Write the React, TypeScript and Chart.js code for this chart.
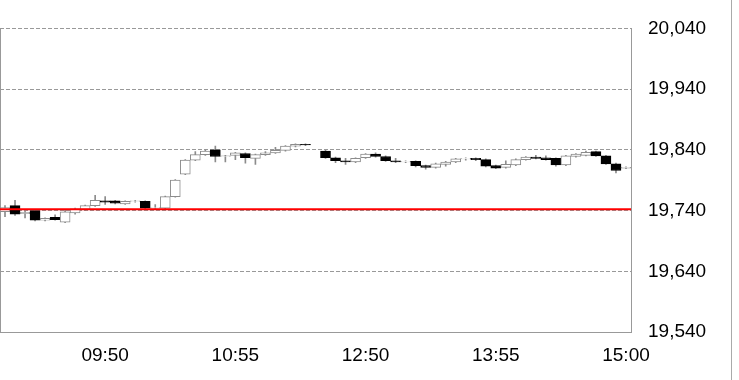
import React, { useEffect, useRef } from 'react';
import { Chart, registerables } from 'chart.js';

Chart.register(...registerables);

const times: string[] = [
  '09:00', '09:05', '09:10', '09:15', '09:20', '09:25', '09:30', '09:35', '09:40', '09:45',
  '09:50', '09:55', '10:00', '10:05', '10:10', '10:15', '10:20', '10:25', '10:30', '10:35',
  '10:40', '10:45', '10:50', '10:55', '11:00', '11:05', '11:10', '11:15', '11:20', '11:25',
  '11:30', '',
  '12:30', '12:35', '12:40', '12:45', '12:50', '12:55', '13:00', '13:05', '13:10', '13:15',
  '13:20', '13:25', '13:30', '13:35', '13:40', '13:45', '13:50', '13:55', '14:00', '14:05',
  '14:10', '14:15', '14:20', '14:25', '14:30', '14:35', '14:40', '14:45', '14:50', '14:55',
  '15:00',
];

const shownTimes: string[] = ['09:50', '10:55', '12:50', '13:55', '15:00'];

const opens: (number | null)[] = [
  19738, 19748, 19735, 19740, 19724, 19729, 19721, 19736, 19742, 19748,
  19756, 19756, 19751, 19755, 19755, 19744, 19744, 19763, 19800, 19823,
  19832, 19840, 19829, 19831, 19834, 19826, 19832, 19835, 19839, 19846,
  19849, null,
  19838, 19827, 19822, 19820, 19827, 19833, 19829, 19822, 19820, 19821,
  19814, 19811, 19816, 19820, 19825, 19826, 19824, 19814, 19811, 19815,
  19824, 19828, 19827, 19826, 19815, 19829, 19831, 19837, 19830, 19817,
  19810,
];

const highs: (number | null)[] = [
  19748, 19757, 19740, 19741, 19728, 19733, 19741, 19744, 19749, 19765,
  19763, 19757, 19756, 19757, 19756, 19750, 19764, 19791, 19824, 19837,
  19840, 19846, 19831, 19836, 19835, 19833, 19837, 19844, 19847, 19850,
  19850, null,
  19839, 19828, 19826, 19827, 19834, 19835, 19830, 19826, 19822, 19822,
  19815, 19818, 19821, 19826, 19827, 19827, 19825, 19815, 19822, 19825,
  19829, 19831, 19830, 19827, 19831, 19834, 19838, 19838, 19831, 19818,
  19812,
];

const lows: (number | null)[] = [
  19730, 19732, 19728, 19723, 19723, 19724, 19720, 19734, 19740, 19747,
  19750, 19751, 19750, 19754, 19743, 19743, 19743, 19762, 19799, 19822,
  19831, 19820, 19820, 19824, 19818, 19816, 19831, 19834, 19838, 19845,
  19847, null,
  19826, 19819, 19816, 19819, 19826, 19828, 19821, 19819, 19819, 19812,
  19808, 19810, 19813, 19819, 19823, 19822, 19812, 19809, 19810, 19814,
  19823, 19825, 19823, 19813, 19814, 19828, 19830, 19829, 19816, 19802,
  19809,
];

const closes: (number | null)[] = [
  19745, 19734, 19737, 19724, 19727, 19725, 19738, 19743, 19748, 19757,
  19754, 19752, 19755, 19756, 19744, 19745, 19763, 19790, 19823, 19832,
  19838, 19829, 19830, 19835, 19827, 19832, 19835, 19839, 19846, 19849,
  19848, null,
  19827, 19822, 19820, 19826, 19833, 19829, 19822, 19820, 19821, 19814,
  19811, 19817, 19820, 19825, 19826, 19824, 19813, 19810, 19816, 19824,
  19828, 19826, 19824, 19815, 19830, 19833, 19836, 19830, 19817, 19806,
  19811,
];

const prevClose = 19742;

const yMin = 19540;
const yMax = 20040;
const yStep = 100;

const FONT = "Arial, 'Liberation Sans', sans-serif";
const GRAY = '#999999';
const CANDLE_GRAY = '#8c8c8c';

export default function App() {
  const ref = useRef<HTMLCanvasElement | null>(null);

  useEffect(() => {
    if (!ref.current) return;
    const bodies = times.map((_, i) =>
      opens[i] == null ? null : [opens[i] as number, closes[i] as number]
    );
    const wicks = times.map((_, i) =>
      lows[i] == null ? null : [lows[i] as number, highs[i] as number]
    );
    const isUp = (i: number) => (closes[i] as number) >= (opens[i] as number);

    const chart = new Chart(ref.current, {
      type: 'bar',
      data: {
        labels: times,
        datasets: [
          {
            type: 'line',
            data: [
              { x: 0, y: prevClose },
              { x: 1, y: prevClose },
            ],
            xAxisID: 'xl',
            yAxisID: 'y',
            borderColor: '#ff0000',
            borderWidth: 2,
            pointRadius: 0,
            fill: false,
          } as any,
          {
            type: 'bar',
            data: bodies as any,
            xAxisID: 'x',
            yAxisID: 'y',
            backgroundColor: (ctx: any) => (isUp(ctx.dataIndex) ? '#ffffff' : '#000000'),
            borderColor: (ctx: any) => (isUp(ctx.dataIndex) ? CANDLE_GRAY : '#000000'),
            borderWidth: 1,
            borderSkipped: false,
            grouped: false,
            categoryPercentage: 1,
            barPercentage: 1,
          } as any,
          {
            type: 'bar',
            data: wicks as any,
            xAxisID: 'x',
            yAxisID: 'y',
            backgroundColor: CANDLE_GRAY,
            borderWidth: 0,
            barThickness: 1,
            grouped: false,
          } as any,
        ],
      },
      options: {
        responsive: false,
        animation: false,
        layout: { padding: { top: 25, left: 0, right: 0, bottom: 0 } },
        plugins: {
          legend: { display: false },
          tooltip: { enabled: false },
        },
        scales: {
          x: {
            type: 'category',
            offset: true,
            grid: { display: false, drawTicks: true, tickLength: 12, offset: true },
            border: { display: true, color: GRAY, width: 1 },
            ticks: {
              autoSkip: false,
              maxRotation: 0,
              minRotation: 0,
              padding: 0,
              color: '#000000',
              font: { family: FONT, size: 19 },
              callback: (_v: any, i: number) => (shownTimes.includes(times[i]) ? times[i] : ''),
            },
            afterFit: (s: any) => {
              s.height = 48;
            },
          },
          xl: {
            type: 'linear',
            display: false,
            offset: false,
            min: 0,
            max: 1,
          },
          y: {
            position: 'right',
            min: yMin,
            max: yMax,
            grid: { display: true, color: GRAY, lineWidth: 1, drawTicks: false },
            border: { display: true, color: GRAY, width: 1, dash: [4, 2] },
            ticks: {
              stepSize: yStep,
              padding: 17,
              color: '#000000',
              font: { family: FONT, size: 19 },
              callback: (v: any) => Number(v).toLocaleString('en-US'),
            },
            afterFit: (s: any) => {
              s.width = 108;
            },
          },
          yl: {
            position: 'left',
            display: true,
            min: yMin,
            max: yMax,
            grid: { display: false, drawTicks: false },
            border: { display: true, color: GRAY, width: 1 },
            ticks: { display: false, padding: 0 },
            afterFit: (s: any) => {
              s.width = 0;
            },
          },
        },
      } as any,
    });

    return () => chart.destroy();
  }, []);

  return (
    <div
      style={{
        position: 'fixed',
        left: 0,
        top: 0,
        width: 739,
        height: 380,
        background: '#ffffff',
        overflow: 'hidden',
      }}
    >
      <canvas ref={ref} width={739} height={380} style={{ display: 'block' }} />
      <div
        style={{
          position: 'absolute',
          left: 731,
          top: 0,
          width: 1,
          height: 380,
          background: '#aaaaaa',
        }}
      />
    </div>
  );
}
